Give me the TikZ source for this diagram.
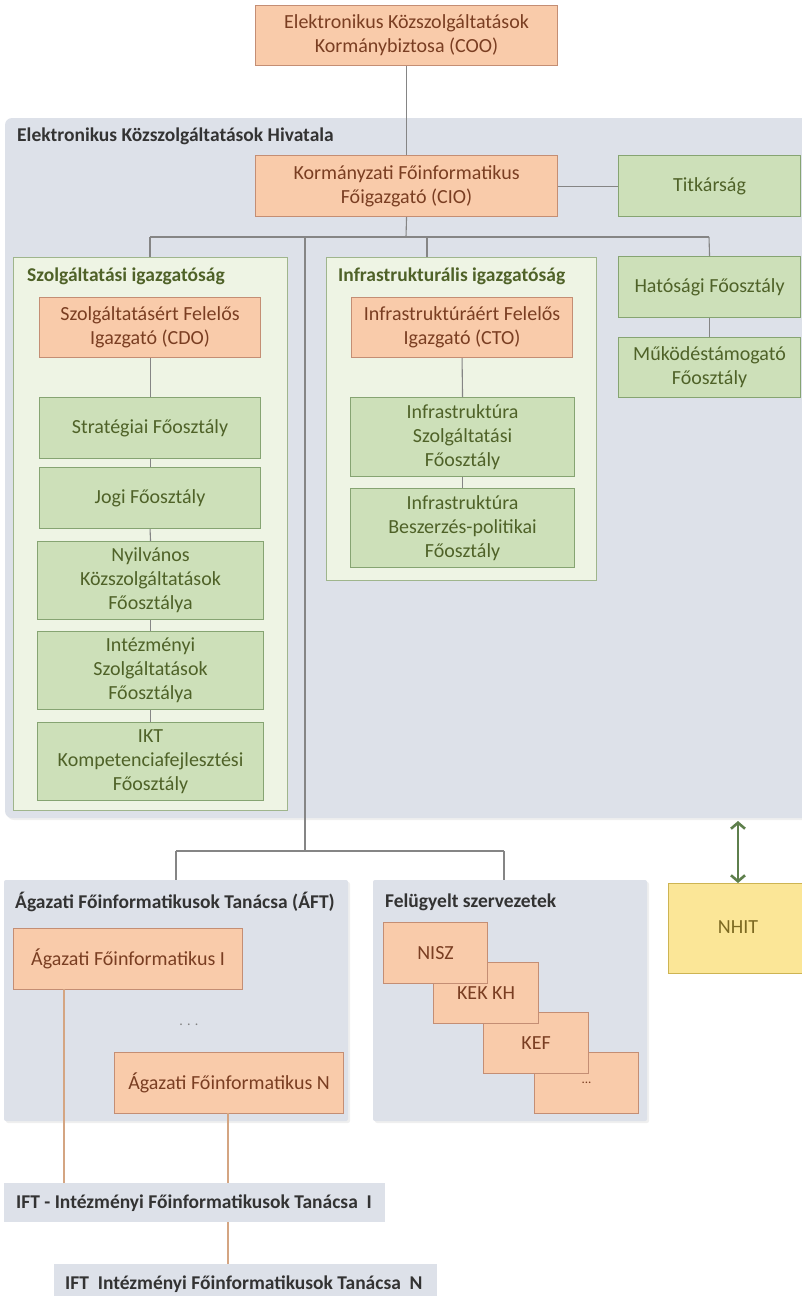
\documentclass[tikz,border=0pt]{standalone}
\usepackage{fontspec}
\setmainfont{Carlito}
\usetikzlibrary{arrows.meta,shadows}
\definecolor{ofill}{HTML}{F9CBAA}
\definecolor{obord}{HTML}{C48E74}
\definecolor{otext}{HTML}{7A3E22}
\definecolor{gfill}{HTML}{CDE0B9}
\definecolor{gbord}{HTML}{86A472}
\definecolor{gtext}{HTML}{4F6228}
\definecolor{sfill}{HTML}{EEF4E4}
\definecolor{sbord}{HTML}{9FB58C}
\definecolor{pfill}{HTML}{DDE1E9}
\definecolor{lgray}{HTML}{858585}
\definecolor{ltan}{HTML}{D4A582}
\definecolor{yfill}{HTML}{FBE697}
\definecolor{ybord}{HTML}{CDB453}
\definecolor{ytext}{HTML}{7D6A22}
\definecolor{agreen}{HTML}{5E7F4C}
\begin{document}
\begin{tikzpicture}[x=1pt,y=-1pt,
  boxtext/.style={font=\fontsize{20}{24}\selectfont, align=center},
  obox/.style={draw=obord, fill=ofill, text=otext, line width=1.1pt},
  gbox/.style={draw=gbord, fill=gfill, text=gtext, line width=1.1pt},
  panel/.style={fill=pfill, rounded corners=7pt, drop shadow={opacity=0.12, shadow xshift=2pt, shadow yshift=-2pt}},
  subpanel/.style={draw=sbord, fill=sfill, line width=1pt},
  ptitle/.style={font=\fontsize{19.5}{22}\selectfont\bfseries, anchor=west, inner sep=0pt},
  conn/.style={draw=lgray, line width=1.1pt},
  tconn/.style={draw=ltan, line width=1.1pt}
]
\useasboundingbox (0,0) rectangle (802,1296);
\fill[white] (0,0) rectangle (802,1296);

% ---- big panel ----
\path[panel] (5,118) rectangle (815,818);
\node[ptitle, text=black!80] (hivtitle) at (17,136) {Elektronikus Közszolgáltatások Hivatala};

% ---- top ----
\node[obox, boxtext, minimum width=302pt, minimum height=60pt, anchor=north west, inner sep=0pt] (coo) at (255,5) {Elektronikus Közszolgáltatások\\Kormánybiztosa (COO)};
\node[obox, boxtext, minimum width=302pt, minimum height=61pt, anchor=north west, inner sep=0pt] (cio) at (255,155) {Kormányzati Főinformatikus\\Főigazgató (CIO)};
\node[gbox, boxtext, minimum width=182pt, minimum height=61pt, anchor=north west, inner sep=0pt] (titk) at (618,155) {Titkárság};
\draw[conn] (coo.south) -- (cio.north);
\draw[conn] (cio.east) -- (titk.west);

% ---- sub panels ----
\node[subpanel, minimum width=274pt, minimum height=553pt, anchor=north west, inner sep=0pt] (szpanel) at (13,257) {};
\node[ptitle, text=gtext] (sztitle) at (27,276) {Szolgáltatási igazgatóság};
\node[subpanel, minimum width=270pt, minimum height=323pt, anchor=north west, inner sep=0pt] (inpanel) at (326,257) {};
\node[ptitle, text=gtext] (intitle) at (338,276) {Infrastrukturális igazgatóság};

% bus
\coordinate (bus) at (406,237);
\coordinate (busL) at (150,237);
\coordinate (busR) at (709,237);
\coordinate (busM) at (305,237);
\coordinate (busI) at (427,237);
\coordinate (szTop) at (150,257);
\coordinate (inTop) at (427,257);
\draw[conn] (cio.south) -- (bus);
\draw[conn] (busL) -- (busR);
\draw[conn] (busL) -- (szTop);
\draw[conn] (busI) -- (inTop);

% ---- Szolgáltatási column ----
\node[obox, boxtext, minimum width=221pt, minimum height=60pt, anchor=north west, inner sep=0pt] (cdo) at (39,297) {Szolgáltatásért Felelős\\Igazgató (CDO)};
\node[gbox, boxtext, minimum width=221pt, minimum height=61pt, anchor=north west, inner sep=0pt] (strat) at (39,397) {Stratégiai Főosztály};
\node[gbox, boxtext, minimum width=221pt, minimum height=61pt, anchor=north west, inner sep=0pt] (jogi) at (39,467) {Jogi Főosztály};
\node[gbox, boxtext, minimum width=226pt, minimum height=78pt, anchor=north west, inner sep=0pt] (nyilv) at (37,541) {Nyilvános\\Közszolgáltatások\\Főosztálya};
\node[gbox, boxtext, minimum width=226pt, minimum height=78pt, anchor=north west, inner sep=0pt] (intez) at (37,631) {Intézményi\\Szolgáltatások\\Főosztálya};
\node[gbox, boxtext, minimum width=226pt, minimum height=78pt, anchor=north west, inner sep=0pt] (ikt) at (37,722) {IKT\\Kompetenciafejlesztési\\Főosztály};
\draw[conn] (cdo.south) -- (strat.north);
\draw[conn] (strat.south) -- (jogi.north);
\draw[conn] (jogi.south) -- (nyilv.north);
\draw[conn] (nyilv.south) -- (intez.north);
\draw[conn] (intez.south) -- (ikt.north);

% ---- Infrastrukturális column ----
\node[obox, boxtext, minimum width=221pt, minimum height=60pt, anchor=north west, inner sep=0pt] (cto) at (351,297) {Infrastruktúráért Felelős\\Igazgató (CTO)};
\node[gbox, boxtext, minimum width=224pt, minimum height=79pt, anchor=north west, inner sep=0pt] (insz) at (350,397) {Infrastruktúra\\Szolgáltatási\\Főosztály};
\node[gbox, boxtext, minimum width=224pt, minimum height=79pt, anchor=north west, inner sep=0pt] (inbe) at (350,488) {Infrastruktúra\\Beszerzés-politikai\\Főosztály};
\draw[conn] (cto.south) -- (insz.north);
\draw[conn] (insz.south) -- (inbe.north);

% ---- right column ----
\node[gbox, boxtext, minimum width=182pt, minimum height=61pt, anchor=north west, inner sep=0pt] (hat) at (618,256) {Hatósági Főosztály};
\node[gbox, boxtext, minimum width=182pt, minimum height=60pt, anchor=north west, inner sep=0pt] (muk) at (618,337) {Működéstámogató\\Főosztály};
\draw[conn] (busR) -- (hat.north);
\draw[conn] (hat.south) -- (muk.north);

% ---- lower panels ----
\path[panel, rounded corners=2pt] (4,880) rectangle (348,1121);
\path[panel, rounded corners=2pt] (373,880) rectangle (647,1121);
\node[ptitle, text=black!80] (afttitle) at (15,902) {Ágazati Főinformatikusok Tanácsa (ÁFT)};
\node[ptitle, text=black!80] (feltitle) at (385,902) {Felügyelt szervezetek};

\coordinate (lbus) at (305,851);
\coordinate (lbusL) at (176,851);
\coordinate (lbusR) at (504,851);
\coordinate (aftTop) at (176,880);
\coordinate (felTop) at (504,880);
\draw[conn] (busM) -- (lbus);
\draw[conn] (lbusL) -- (lbusR);
\draw[conn] (lbusL) -- (aftTop);
\draw[conn] (lbusR) -- (felTop);

\node[obox, boxtext, minimum width=229pt, minimum height=61pt, anchor=north west, inner sep=0pt] (agI) at (13,928) {Ágazati Főinformatikus I};
\node[text=gray, font=\fontsize{14}{16}\selectfont] (agdots) at (189,1025) {. . .};
\node[obox, boxtext, minimum width=229pt, minimum height=61pt, anchor=north west, inner sep=0pt] (agN) at (114,1052) {Ágazati Főinformatikus N};

\node[obox, boxtext, minimum width=104pt, minimum height=61pt, anchor=north west, inner sep=0pt] (etc) at (534,1052) {\fontsize{13}{15}\selectfont ...};
\node[obox, boxtext, minimum width=105pt, minimum height=61pt, anchor=north west, inner sep=0pt] (kef) at (483,1012) {KEF};
\node[obox, boxtext, minimum width=105pt, minimum height=61pt, anchor=north west, inner sep=0pt] (kek) at (433,962) {KEK KH};
\node[obox, boxtext, minimum width=104pt, minimum height=61pt, anchor=north west, inner sep=0pt] (nisz) at (383,922) {NISZ};

% ---- NHIT ----
\node[draw=ybord, fill=yfill, line width=1.1pt, minimum width=145pt, minimum height=90pt, anchor=north west, inner sep=0pt] (nhit) at (668,883) {};
\node[boxtext, text=ytext] (nhittext) at (738,927) {NHIT};
\coordinate (arrtop) at (738,821);
\coordinate (arrbot) at (738,883);
\draw[agreen, line width=2.6pt, {Straight Barb[length=6pt,width=14pt,line width=2.6pt]}-{Straight Barb[length=6pt,width=14pt,line width=2.6pt]}] (arrtop) -- (arrbot);

% ---- IFT ----
\node[fill=pfill, minimum width=381pt, minimum height=39pt, anchor=north west, inner sep=0pt] (iftI) at (4,1183) {};
\node[ptitle, text=black!80] (iftItext) at (16,1203) {IFT - Intézményi Főinformatikusok Tanácsa\ \ I};
\node[fill=pfill, minimum width=383pt, minimum height=40pt, anchor=north west, inner sep=0pt] (iftN) at (54,1264) {};
\node[ptitle, text=black!80] (iftNtext) at (65,1284) {IFT\ \ Intézményi Főinformatikusok Tanácsa\ \ N};

\coordinate (c1a) at (64,989);
\coordinate (c1b) at (64,1183);
\coordinate (c2a) at (228,1113);
\coordinate (c2b) at (228,1183);
\coordinate (c3a) at (228,1222);
\coordinate (c3b) at (228,1264);
\draw[tconn] (c1a) -- (c1b);
\draw[tconn] (c2a) -- (c2b);
\draw[tconn] (c3a) -- (c3b);
\end{tikzpicture}
\end{document}
